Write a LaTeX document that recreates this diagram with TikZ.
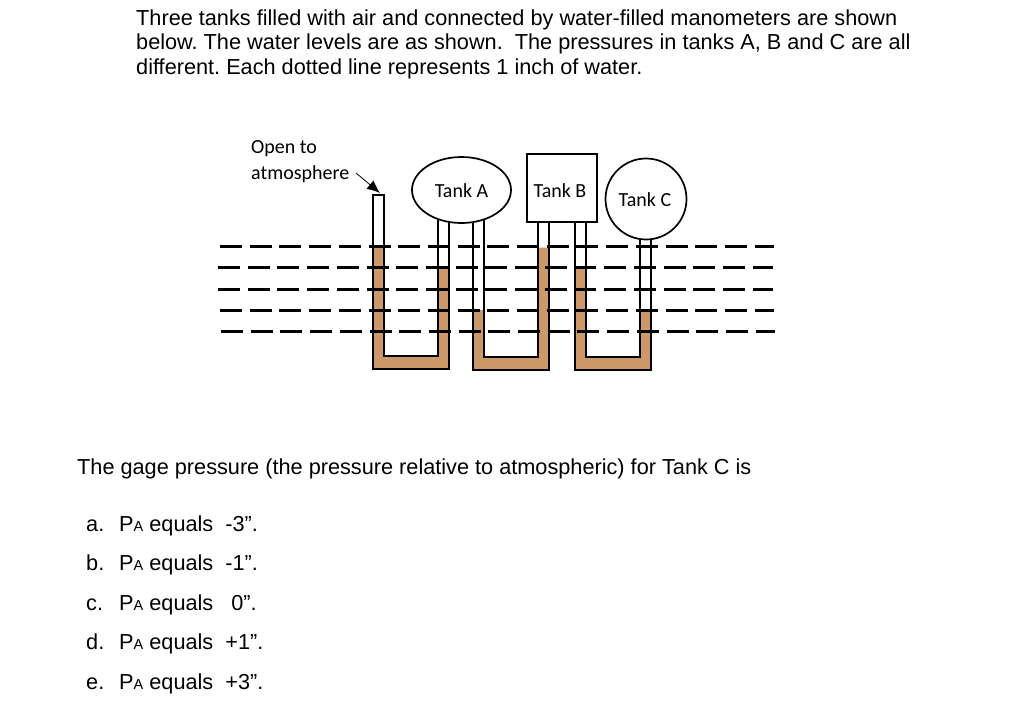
\documentclass[tikz,border=0pt]{standalone}
\usepackage{fontspec}
\usetikzlibrary{shapes.geometric,arrows.meta}
\setmainfont{Liberation Sans}
\newfontfamily\labelfont{Carlito}
\definecolor{water}{RGB}{204,153,102}
\frenchspacing
\tikzset{
  bodytext/.style={anchor=base west, inner sep=0pt, font=\fontsize{21.7}{24}\selectfont},
  tanklabel/.style={inner sep=0pt, font=\labelfont\fontsize{20}{24}\selectfont},
  tube/.style={line width=1.7pt},
  level/.style={line width=2.6pt, dash pattern=on 22pt off 7.7pt},
}
\begin{document}
\begin{tikzpicture}[>=Latex,x=1pt,y=-1pt]
        \useasboundingbox (0,0) rectangle (1024,709);
        % Question text
        \node[bodytext] (lineone) at (136,25.7) {Three tanks filled with air and connected by water-filled manometers are shown};
        \node[bodytext] (linetwo) at (136,49.7) {below. The water levels are as shown.\ \ The pressures in tanks A, B and C are all};
        \node[bodytext] (linethree) at (136,74.7) {different. Each dotted line represents 1 inch of water.};
        % Water
        \fill[water] (373,246.5) -- (384,246.5) -- (384,356) -- (438,356) -- (438,267.5) -- (449,267.5) -- (449,369) -- (373,369) -- cycle;
        \fill[water] (473,310) -- (484,310) -- (484,357) -- (538,357) -- (538,247.5) -- (549,247.5) -- (549,370) -- (473,370) -- cycle;
        \fill[water] (575,267.5) -- (586,267.5) -- (586,357) -- (640,357) -- (640,310) -- (651,310) -- (651,370) -- (575,370) -- cycle;
        % Manometers
        \draw[tube] (449,215) -- (449,369) -- (373,369) -- (373,195) -- (384,195) -- (384,356) -- (438,356) -- (438,215);
        \draw[tube] (473,218) -- (473,370) -- (549,370) -- (549,221) (538,221) -- (538,357) -- (484,357) -- (484,218);
        \draw[tube] (575,221) -- (575,370) -- (651,370) -- (651,240) (640,240) -- (640,357) -- (586,357) -- (586,221);
        % Tanks
        \node[draw, ellipse, tube, fill=white, minimum width=99pt, minimum height=66pt, inner sep=0pt, tanklabel] (tanka) at (461.5,190) {};
        \node[tanklabel] (tankalabel) at ([yshift=-1pt]tanka) {Tank A};
        \node[draw, rectangle, tube, fill=white, minimum width=69.5pt, minimum height=67.5pt, inner sep=0pt] (tankb) at (562,188) {};
        \node[tanklabel] (tankblabel) at ([xshift=-2pt,yshift=-3pt]tankb) {Tank B};
        \node[draw, circle, tube, fill=white, minimum size=81pt, inner sep=0pt, tanklabel] (tankc) at (646,199) {};
        \node[tanklabel] (tankclabel) at ([xshift=-1pt,yshift=-1pt]tankc) {Tank C};
        % Water levels
        \draw[level] (220,246.5) -- (774,246.5);
        \draw[level] (218,267.5) -- (773,267.5);
        \draw[level] (218,289.5) -- (773,289.5);
        \draw[level] (220,310.5) -- (774,310.5);
        \draw[level] (221,331.5) -- (775,331.5);
        % Open end
        \node[tanklabel, anchor=base west] (opento) at (251,153) {Open to};
        \node[tanklabel, anchor=base west] (atmos) at (251,179) {atmosphere};
        \coordinate (arrowstart) at (356,173);
        \coordinate (opentop) at (380,193);
        \draw[-{Latex[length=13pt,width=11pt]}, line width=0.8pt] (arrowstart) -- (opentop);
        % Gage pressure question
        \node[bodytext] (question) at (77,474) {The gage pressure (the pressure relative to atmospheric) for Tank C is};
        % Answers
        \node[bodytext] (ansa) at (86,531) {a.};
        \node[bodytext] (ansb) at (86,570) {b.};
        \node[bodytext] (ansc) at (86,610) {c.};
        \node[bodytext] (ansd) at (86,649) {d.};
        \node[bodytext] (anse) at (86,689) {e.};
        \node[bodytext] (texta) at (119,531) {P{\fontsize{14.5}{15}\selectfont A} equals\ \ -3”.};
        \node[bodytext] (textb) at (119,570) {P{\fontsize{14.5}{15}\selectfont A} equals\ \ -1”.};
        \node[bodytext] (textc) at (119,610) {P{\fontsize{14.5}{15}\selectfont A} equals\ \ \ 0”.};
        \node[bodytext] (textd) at (119,649) {P{\fontsize{14.5}{15}\selectfont A} equals\ \ +1”.};
        \node[bodytext] (texte) at (119,689) {P{\fontsize{14.5}{15}\selectfont A} equals\ \ +3”.};
\end{tikzpicture}
\end{document}
